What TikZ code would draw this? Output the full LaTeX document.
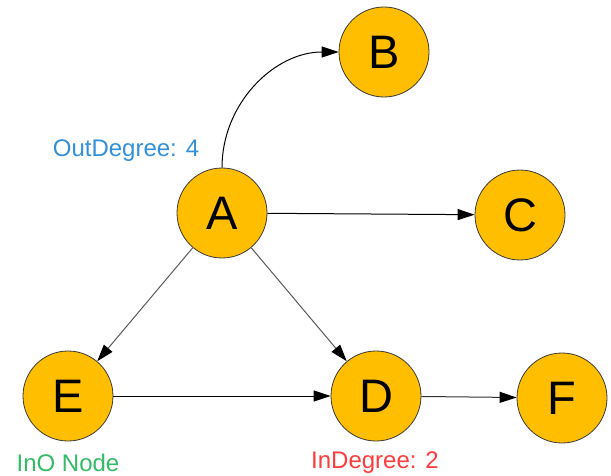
\documentclass[tikz,border=0pt]{standalone}
\usepackage{fontspec}
\setmainfont{Liberation Sans}
\usetikzlibrary{arrows.meta}
\definecolor{nodefill}{HTML}{FFBF00}
\definecolor{nodeline}{HTML}{3A3A3A}
\definecolor{outblue}{HTML}{3390D8}
\definecolor{ingreen}{HTML}{33BB66}
\definecolor{inred}{HTML}{FF3B3B}
\tikzset{
  vertex/.style={circle, draw=nodeline, line width=0.8pt, fill=nodefill,
    minimum size=90pt, inner sep=0pt, font=\fontsize{47}{47}\selectfont},
  edge/.style={line width=1pt, -{Triangle[length=17pt,width=11pt,color=black]}},
  note/.style={font=\fontsize{24}{24}\selectfont, inner sep=0pt}
}
\begin{document}
\begin{tikzpicture}[x=1pt,y=-1pt]
  \useasboundingbox (0,0) rectangle (611,476);
  % vertices
  \node[vertex] (A) at (222,213) {A};
  \node[vertex] (B) at (384,52) {B};
  \node[vertex] (C) at (520,215) {C};
  \node[vertex] (E) at (68,396) {E};
  \node[vertex] (D) at (376,396) {D};
  \node[vertex] (F) at (562,398) {F};
  % edges
  \draw[edge, black] (A.north) to[out=90, in=180] (B.west);
  \draw[edge, black] (A) -- (C);
  \draw[edge, black!65] (A) -- (E);
  \draw[edge, black!65] (A) -- (D);
  \draw[edge, black] (E) -- (D);
  \draw[edge, black!80] (D) -- (F);
  % annotations
  \node[note, text=outblue] (outdeg) at (126,151) {OutDegree: 4};
  \node[note, text=ingreen] (ino) at (68,463) {InO Node};
  \node[note, text=inred] (indeg) at (375,463) {InDegree: 2};
\end{tikzpicture}
\end{document}
